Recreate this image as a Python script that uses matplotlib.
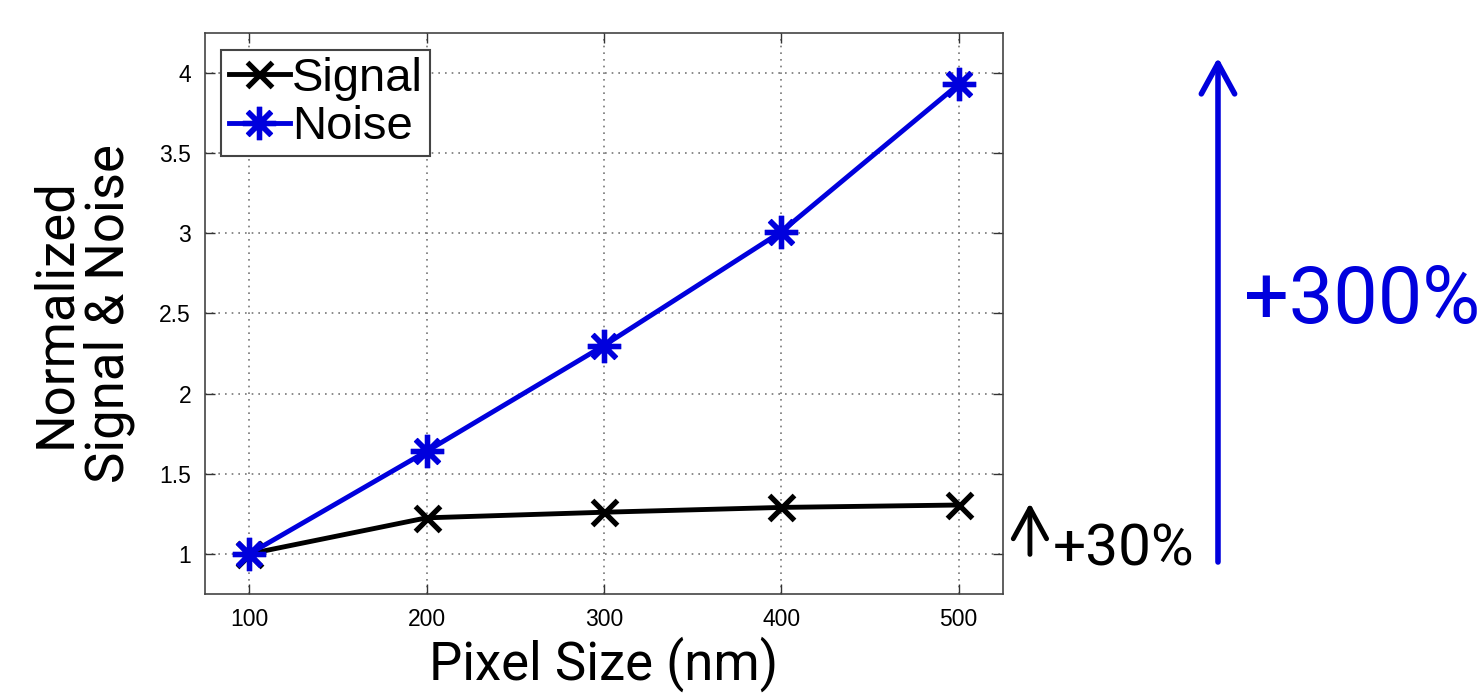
import matplotlib
matplotlib.use("Agg")
import matplotlib.pyplot as plt

pixel_size = [100, 200, 300, 400, 500]
signal = [1.0, 1.225, 1.26, 1.29, 1.305]
noise = [1.0, 1.64, 2.30, 3.01, 3.93]

fig = plt.figure(figsize=(14.83, 6.93), dpi=100)
ax = fig.add_axes([0.1382, 0.1429, 0.5381, 0.8095])

ax.plot(pixel_size, signal, color='black', lw=3.5, marker='x',
        markersize=18, markeredgewidth=3.8, label='Signal', zorder=3)
ax.plot(pixel_size, noise, color='#0000dd', lw=3.5, marker=(8, 2, 0),
        markersize=24, markeredgewidth=3.8, label='Noise', zorder=4)

ax.set_xlim(75, 525)
ax.set_ylim(0.75, 4.25)
ax.set_xticks(pixel_size)
ax.set_yticks([1, 1.5, 2, 2.5, 3, 3.5, 4])
ax.set_yticklabels(['1', '1.5', '2', '2.5', '3', '3.5', '4'])

ax.grid(True, linestyle=(0, (1, 3)), color='#777777', lw=1.2)
ax.tick_params(direction='in', length=7, width=1, top=True, right=True,
               labelsize=16.5, pad=10, colors='#333333', labelcolor='black')
for lab in ax.get_xticklabels() + ax.get_yticklabels():
    lab.set_family('Liberation Sans')
for s in ax.spines.values():
    s.set_color('#444444')
    s.set_linewidth(1.2)

ax.set_xlabel('Pixel Size (nm)', fontsize=38, family='Roboto', labelpad=4)
ax.set_ylabel('Normalized\nSignal & Noise', fontsize=38, family='Roboto',
              va='center', linespacing=1.05)
ax.yaxis.set_label_coords(-0.153, 0.5)

leg = ax.legend(loc='upper left', prop={'family': 'Liberation Sans', 'size': 34},
                handlelength=1.3, handletextpad=0.05, borderpad=0.15,
                labelspacing=0.1, borderaxespad=0.35, fancybox=False,
                framealpha=1, edgecolor='#444444')
leg.get_frame().set_linewidth(1.5)

# annotations to the right of the axes
ax.annotate('', xy=(0.8213, 0.921), xytext=(0.8213, 0.185),
            xycoords='figure fraction', textcoords='figure fraction',
            arrowprops=dict(arrowstyle='->,head_length=1.1,head_width=0.6',
                            mutation_scale=20, color='#0000dd', lw=4))
fig.text(0.839, 0.565, '+300%', color='#0000dd', fontsize=57,
         family='Roboto', va='center', ha='left')

ax.annotate('', xy=(0.6945, 0.278), xytext=(0.6945, 0.196),
            xycoords='figure fraction', textcoords='figure fraction',
            arrowprops=dict(arrowstyle='->,head_length=1.1,head_width=0.6',
                            mutation_scale=20, color='black', lw=3.5))
fig.text(0.710, 0.207, '+30%', color='black', fontsize=42,
         family='Roboto', va='center', ha='left')

fig.savefig('out.png', dpi=100)
